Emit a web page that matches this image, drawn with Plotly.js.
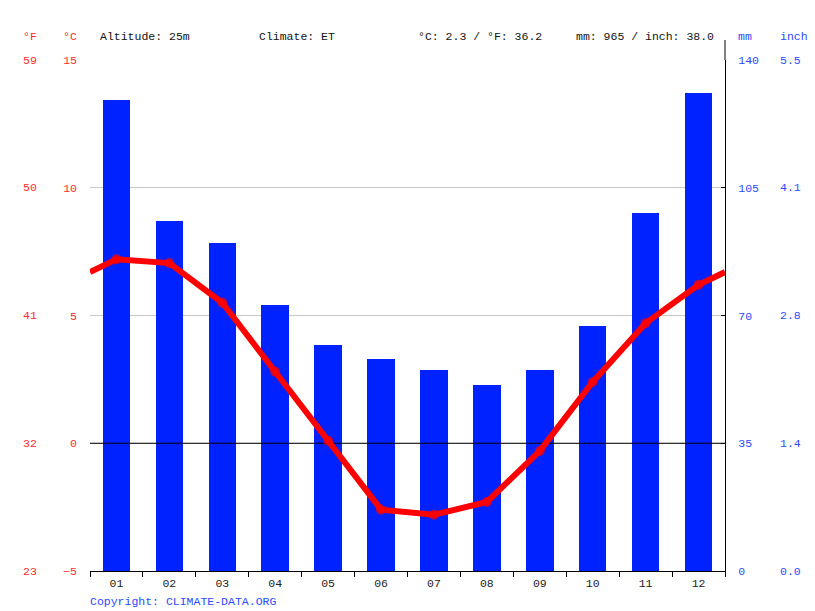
<!DOCTYPE html>
<html><head><meta charset="utf-8">
<script src="https://cdn.plot.ly/plotly-3.0.1.min.js"></script>
<style>html,body{margin:0;padding:0;background:#fff}#c{width:815px;height:611px}</style>
</head><body><div id="c"></div>
<script>
const months = ["01","02","03","04","05","06","07","08","09","10","11","12"];
const precipMm = [129, 96, 90, 73, 62, 58, 55, 51, 55, 67, 98, 131];
const tempC = [7.2, 7.05, 5.5, 2.8, 0.1, -2.6, -2.8, -2.3, -0.3, 2.4, 4.7, 6.2];
const cTicks = [15, 10, 5, 0, -5];
const fTicks = ["59", "50", "41", "32", "23"];
const mmTicks = [140, 105, 70, 35, 0];
const inchTicks = ["5.5", "4.1", "2.8", "1.4", "0.0"];
const headers = ["Altitude: 25m", "Climate: ET", "°C: 2.3 / °F: 36.2", "mm: 965 / inch: 38.0"];

const W = 815, H = 611, L = 90, R = 725, T = 60, B = 571;
const pw = R - L, ph = B - T;
const px = x => (x - L) / pw;
const py = y => (B - y) / ph;

const idx = months.map((m, i) => i + 1);
const xRange = [0.5, 12.5];
const wrap = (tempC[0] + tempC[11]) / 2;
const lineX = [xRange[0]].concat(idx, [xRange[1]]);
const lineY = [wrap].concat(tempC, [wrap]);
const mSize = [0].concat(tempC.map(() => 10), [0]);

const FONT = "Liberation Mono, DejaVu Sans Mono, monospace";
const FS = 11.5;
const RED = "#ff2a2a", BLUE = "#2a4bff", BARC = "#0022ff";

const data = [
  {type: "bar", x: idx, y: precipMm, yaxis: "y", marker: {color: BARC}, width: 0.52, hoverinfo: "skip"},
  {type: "scatter", mode: "lines", x: xRange, y: [0, 0], yaxis: "y2", line: {color: "#000", width: 1}, hoverinfo: "skip"},
  {type: "scatter", mode: "lines+markers", x: lineX, y: lineY, yaxis: "y2",
   line: {color: "#ff0000", width: 6}, marker: {color: "#ff0000", size: mSize, line: {width: 0}}, hoverinfo: "skip"}
];

const ann = [];
const hx = [98, 257, 416, 574];
const tf = c => ({family: FONT, size: FS, color: c});
headers.forEach((t, i) => ann.push({xref: "paper", yref: "paper", x: px(hx[i]), y: py(36), xanchor: "left", yanchor: "middle",
  text: t, showarrow: false, font: tf("#111")}));
ann.push({xref: "paper", yref: "paper", x: px(39), y: py(36), xanchor: "right", yanchor: "middle", text: "°F", showarrow: false, font: tf(RED)});
ann.push({xref: "paper", yref: "paper", x: px(79), y: py(36), xanchor: "right", yanchor: "middle", text: "°C", showarrow: false, font: tf(RED)});
ann.push({xref: "paper", yref: "paper", x: px(736), y: py(36), xanchor: "left", yanchor: "middle", text: "mm", showarrow: false, font: tf(BLUE)});
ann.push({xref: "paper", yref: "paper", x: px(778), y: py(36), xanchor: "left", yanchor: "middle", text: "inch", showarrow: false, font: tf(BLUE)});
cTicks.forEach((c, i) => ann.push({xref: "paper", yref: "y2", x: px(39), y: c, xanchor: "right", yanchor: "middle", text: fTicks[i], showarrow: false, font: tf(RED)}));
mmTicks.forEach((m, i) => ann.push({xref: "paper", yref: "y", x: px(778), y: m, xanchor: "left", yanchor: "middle", text: inchTicks[i], showarrow: false, font: tf(BLUE)}));
ann.push({xref: "paper", yref: "paper", x: px(88), y: py(601), xanchor: "left", yanchor: "middle", text: "Copyright: CLIMATE-DATA.ORG", showarrow: false, font: tf(BLUE)});

const layout = {
  width: W, height: H, margin: {l: L, r: W - R, t: T, b: H - B, pad: 0},
  paper_bgcolor: "#fff", plot_bgcolor: "#fff", showlegend: false, bargap: 0,
  font: {family: FONT, size: FS},
  xaxis: {range: xRange, tickvals: idx, ticktext: months, ticks: "", showgrid: false, zeroline: false,
    showline: true, linecolor: "#000", linewidth: 1, tickfont: tf("#222"),
    ticklabelstandoff: 1,
    minor: {tick0: 0.5, dtick: 1, ticks: "outside", ticklen: 5, tickcolor: "#000", showgrid: false}},
  yaxis: {range: [0, 140], tickvals: mmTicks, side: "right", showgrid: false, zeroline: false,
    showline: true, linecolor: "#000", linewidth: 1, ticks: "inside", ticklen: 4, tickcolor: "#000",
    tickfont: tf(BLUE), ticklabelstandoff: 10},
  yaxis2: {range: [-5, 15], tickvals: cTicks, overlaying: "y", side: "left", ticks: "", showgrid: true,
    gridcolor: "#c8c8c8", gridwidth: 1, zeroline: false, showline: false,
    tickfont: tf(RED), ticklabelstandoff: 12},
  annotations: ann,
  shapes: [{type: "line", xref: "paper", yref: "paper", x0: 1, x1: 1, y0: 1, y1: py(40), line: {color: "#000", width: 1}}]
};
Plotly.newPlot("c", data, layout, {staticPlot: true});
</script></body></html>
